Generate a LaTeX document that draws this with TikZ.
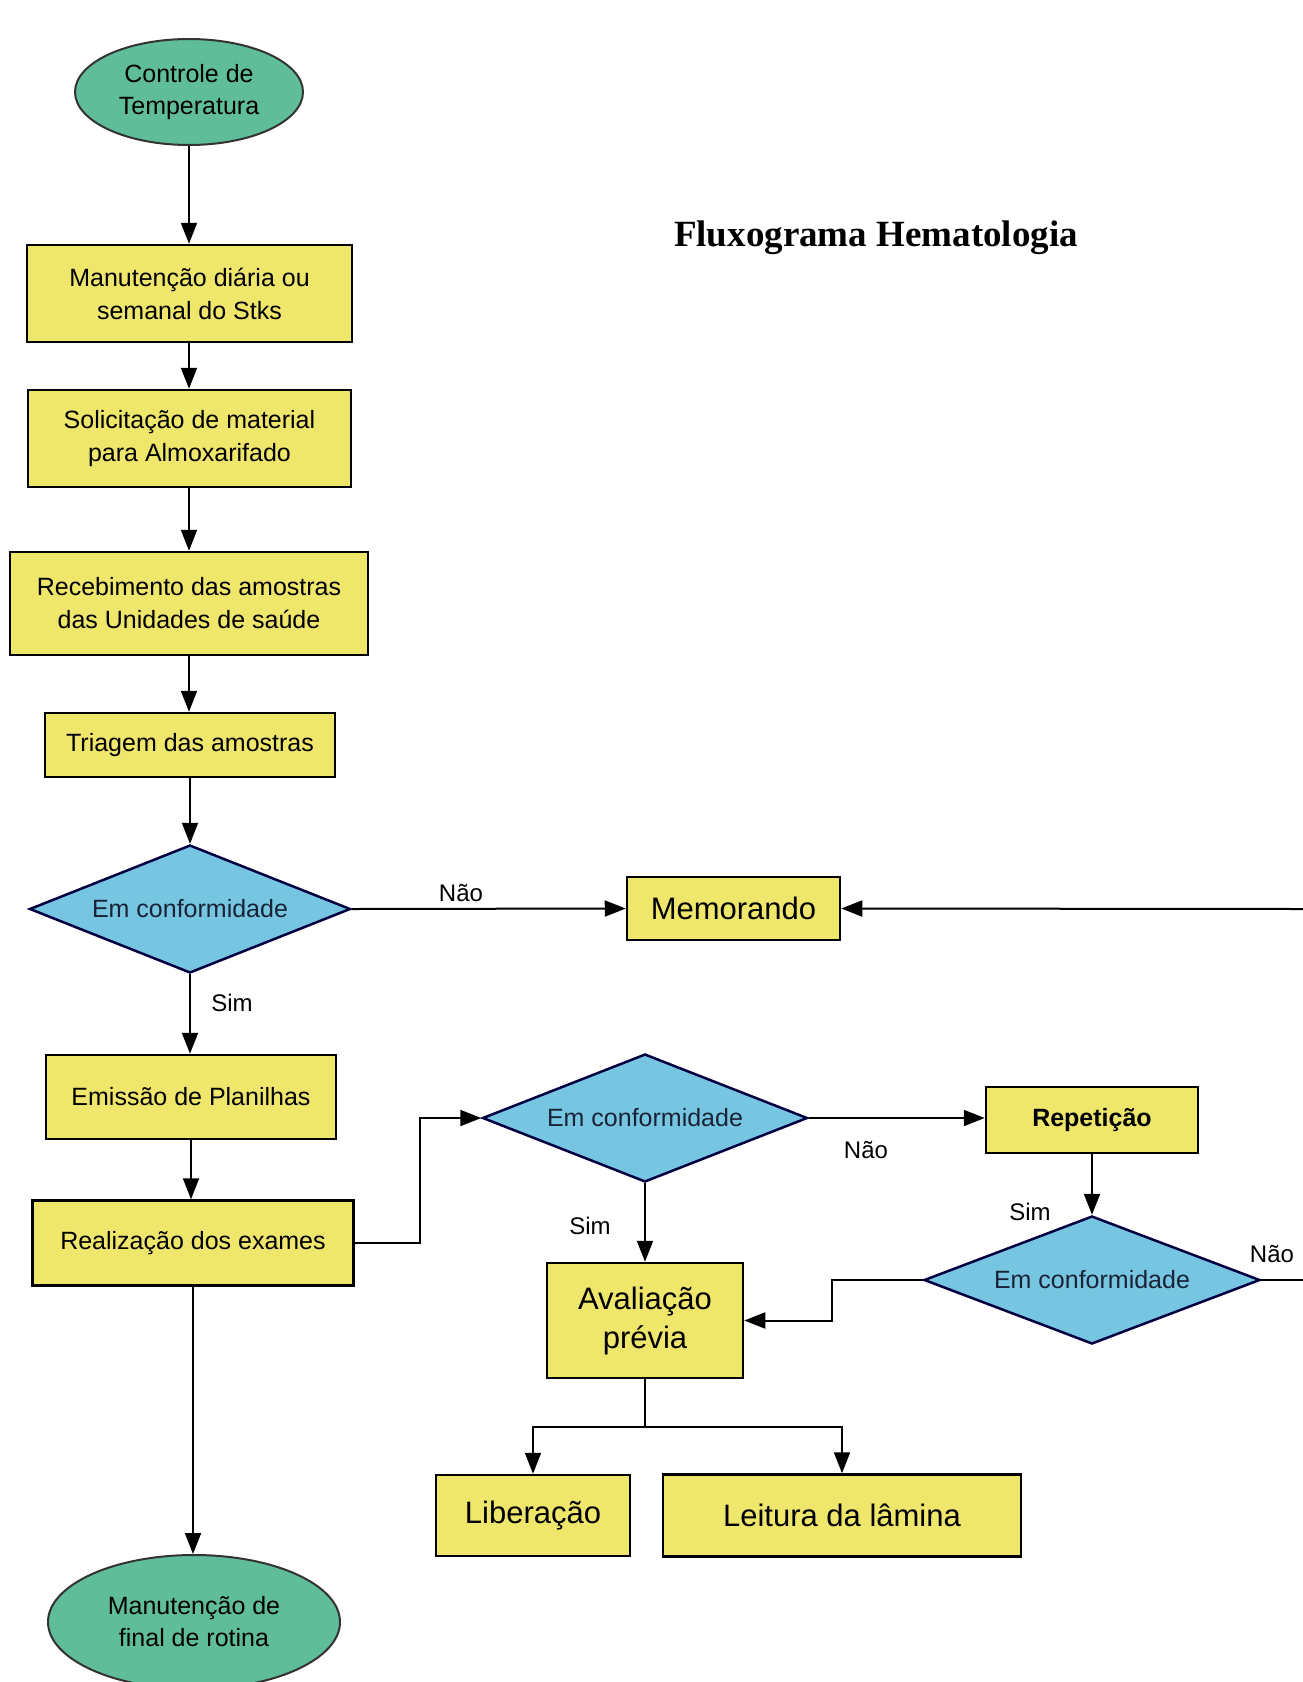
\documentclass[tikz,border=0pt]{standalone}
\usepackage{fontspec}
\setmainfont{Liberation Sans}
\newfontfamily\titlefont{Liberation Serif}
\usetikzlibrary{shapes.geometric,arrows.meta}
\definecolor{boxyellow}{HTML}{EFE66C}
\definecolor{ovalgreen}{HTML}{60BD9A}
\definecolor{diablue}{HTML}{76C6E2}
\definecolor{diatext}{HTML}{1A2236}
\begin{document}
\begin{tikzpicture}[x=1pt,y=-1pt,
  box/.style={draw=black, line width=2.5pt, fill=boxyellow, align=center, inner sep=0pt, font=\fontsize{25}{33}\selectfont},
  bigbox/.style={box, font=\fontsize{31}{39}\selectfont},
  oval/.style={ellipse, draw=black!80, line width=2pt, fill=ovalgreen, align=center, inner sep=0pt, font=\fontsize{25}{32}\selectfont},
  deci/.style={diamond, draw=black!75!blue, line width=2.5pt, fill=diablue, inner sep=0pt, aspect=2.5, text=diatext, font=\fontsize{25}{30}\selectfont},
  conn/.style={line width=2pt, -{Triangle[length=21pt,width=16pt]}},
  plainline/.style={line width=2pt},
  lbl/.style={font=\fontsize{24}{28}\selectfont, inner sep=0pt}
]
\useasboundingbox (0,0) rectangle (1303,1682);
\fill[white] (0,0) rectangle (1303,1682);

% title
\node[font=\titlefont\bfseries\fontsize{37}{44}\selectfont] (title) at (876,238) {Fluxograma Hematologia};

% main column
\node[oval, minimum width=228pt, minimum height=106pt] (e1) at (189,92) {Controle de\\Temperatura};
\node[box, minimum width=325pt, minimum height=97pt] (b1) at (189.5,293.5) {Manutenção diária ou\\semanal do Stks};
\node[box, minimum width=323pt, minimum height=97pt] (b2) at (189.5,438.5) {Solicitação de material\\para Almoxarifado};
\node[box, minimum width=358pt, minimum height=103pt] (b3) at (189,603.5) {Recebimento das amostras\\das Unidades de saúde};
\node[box, minimum width=290pt, minimum height=64pt] (b4) at (190,745) {Triagem das amostras};
\node[deci, minimum width=321pt, minimum height=128pt] (d1) at (190,909) {Em conformidade};
\node[bigbox, minimum width=213pt, minimum height=63pt] (memo) at (733.5,908.5) {Memorando};
\node[box, minimum width=290pt, minimum height=84pt] (b5) at (191,1097) {Emissão de Planilhas};
\node[box, minimum width=321pt, minimum height=85pt] (b6) at (193,1243) {Realização dos exames};
\node[oval, minimum width=292pt, minimum height=134pt] (e2) at (194,1622) {Manutenção de\\final de rotina};

% right part
\node[deci, minimum width=325pt, minimum height=128pt] (d2) at (645,1118) {Em conformidade};
\node[box, minimum width=212pt, minimum height=66pt, font=\bfseries\fontsize{25}{30}\selectfont] (rep) at (1092,1120) {Repetição};
\node[deci, minimum width=336pt, minimum height=128pt] (d3) at (1092,1280) {Em conformidade};
\node[bigbox, minimum width=196pt, minimum height=115pt] (ava) at (645,1320.5) {Avaliação\\prévia};
\node[bigbox, minimum width=194pt, minimum height=81pt] (lib) at (533,1515.5) {Liberação};
\node[bigbox, minimum width=358pt, minimum height=82pt] (lei) at (842,1515.5) {Leitura da lâmina};

\coordinate (re1) at (1303,909);
\coordinate (re2) at (1303,1280);
\coordinate (split) at (645,1427);

% connectors
\draw[conn] (e1.south) -- (e1.south |- b1.north);
\draw[conn] (e1.south |- b1.south) -- (e1.south |- b2.north);
\draw[conn] (e1.south |- b2.south) -- (e1.south |- b3.north);
\draw[conn] (e1.south |- b3.south) -- (e1.south |- b4.north);
\draw[conn] (b4.south) -- (d1.north);
\draw[conn] (d1.east) -- (memo.west);
\draw[conn] (re1) -- (memo.east);
\draw[conn] (d1.south) -- (d1.south |- b5.north);
\draw[conn] (b5.south) -- (b5.south |- b6.north);
\draw[conn] (b6.east) -- ++(65,0) |- (d2.west);
\draw[conn] (d2.east) -- (d2.east -| rep.west);
\draw[conn] (d2.south) -- (ava.north);
\draw[conn] (rep.south) -- (rep.south |- d3.north);
\draw[conn] (d3.west) -- ++(-91,0) |- (ava.east);
\draw[plainline] (d3.east) -- (re2);
\draw[plainline] (ava.south) -- (split);
\draw[conn] (split) -| (lib.north);
\draw[conn] (split) -| (lei.north);
\draw[conn] (b6.south) -- (b6.south |- e2.north);

% labels
\node[lbl] (l1) at (461,893) {Não};
\node[lbl] (l2) at (232,1003) {Sim};
\node[lbl] (l3) at (590,1226) {Sim};
\node[lbl] (l4) at (866,1150) {Não};
\node[lbl] (l5) at (1030,1212) {Sim};
\node[lbl] (l6) at (1272,1254) {Não};
\end{tikzpicture}
\end{document}
